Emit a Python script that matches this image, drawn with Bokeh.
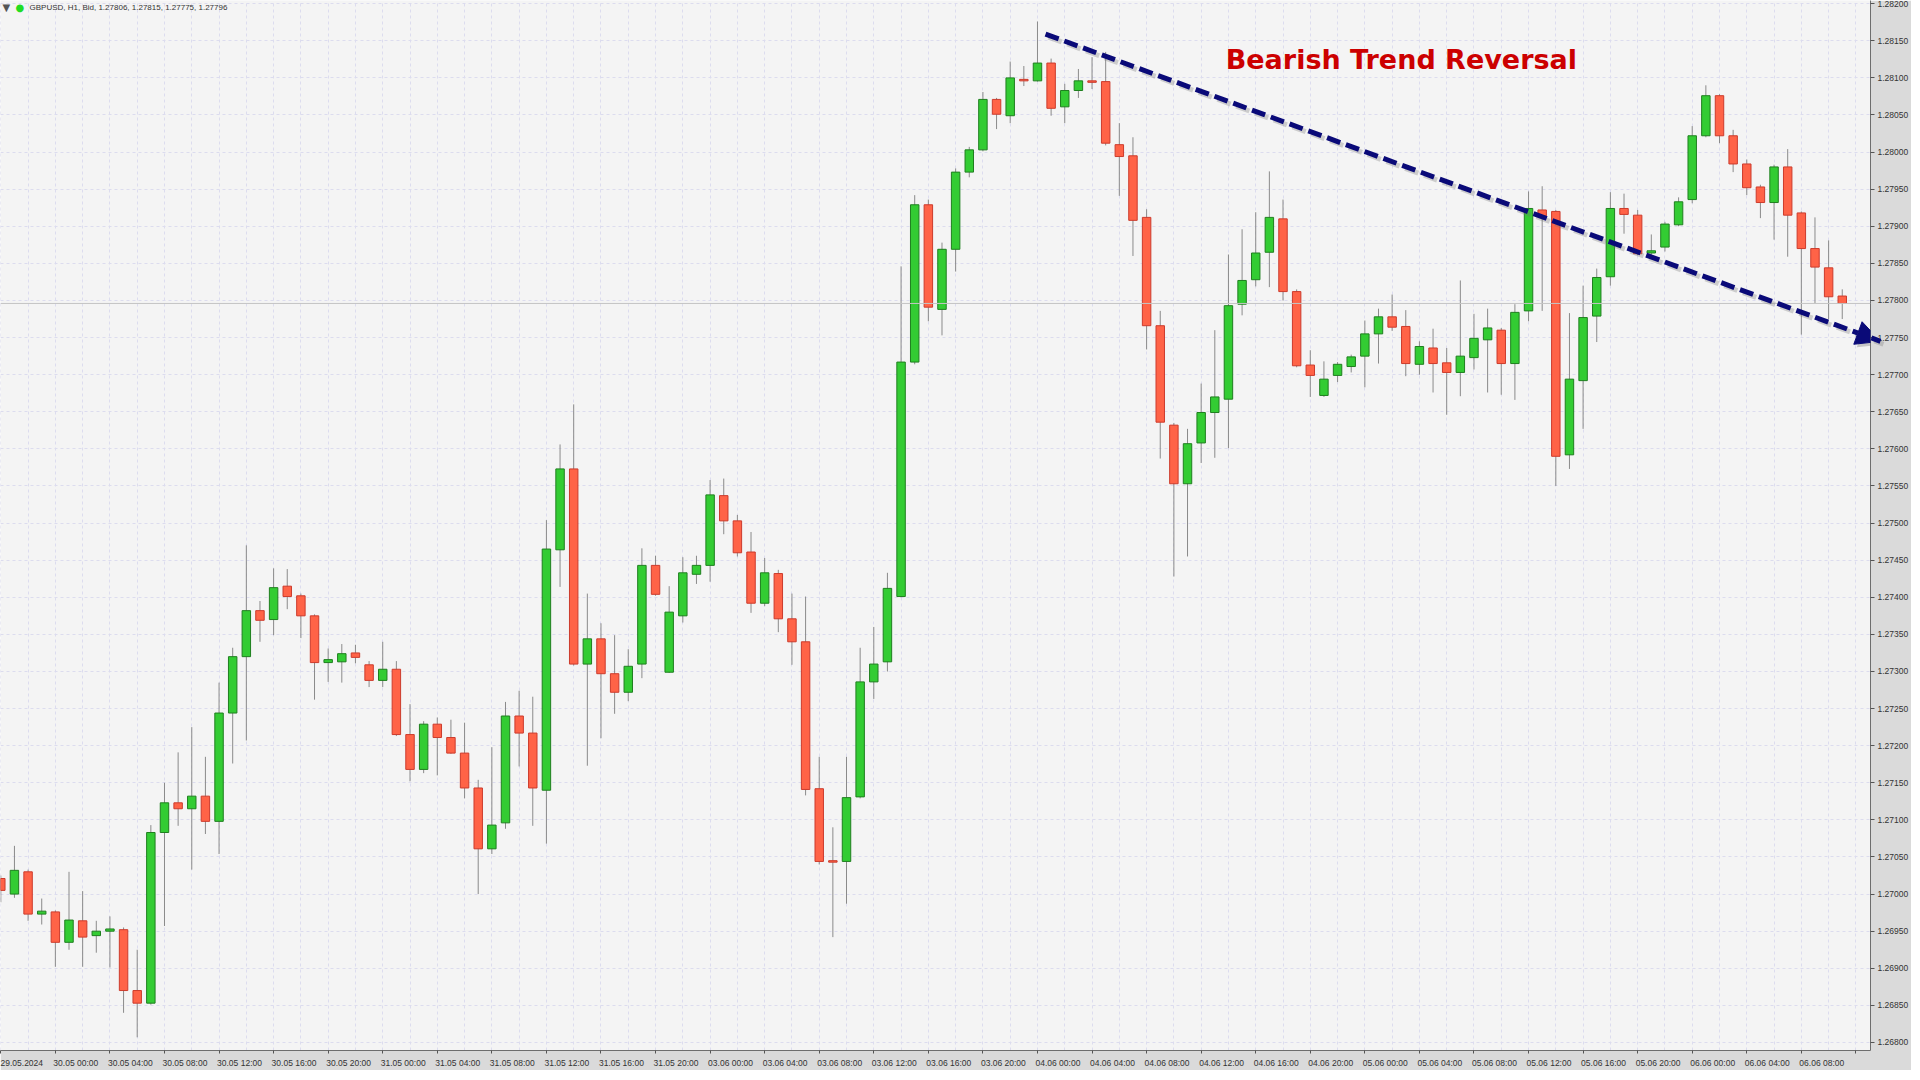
from bokeh.plotting import figure
from bokeh.models import (ColumnDataSource, Range1d, FixedTicker, PrintfTickFormatter,
                          Label, Arrow, NormalHead, Span)
from bokeh.embed import file_html
from bokeh.resources import INLINE

# ---------------- data (GBPUSD H1, 29.05.2024 20:00 .. 06.06.2024 11:00) ----------------
bar_index = list(range(136))

opens = [1.27021, 1.27000, 1.27030, 1.26973, 1.26976, 1.26935, 1.26964, 1.26944, 1.26950, 1.26952,
         1.26870, 1.26853, 1.27083, 1.27123, 1.27115, 1.27132, 1.27098, 1.27244, 1.27320, 1.27382,
         1.27370, 1.27415, 1.27402, 1.27375, 1.27312, 1.27313, 1.27325, 1.27309, 1.27288, 1.27303,
         1.27215, 1.27168, 1.27229, 1.27211, 1.27190, 1.27143, 1.27061, 1.27096, 1.27240, 1.27217,
         1.27140, 1.27464, 1.27573, 1.27310, 1.27344, 1.27297, 1.27272, 1.27310, 1.27443, 1.27299,
         1.27375, 1.27431, 1.27443, 1.27537, 1.27503, 1.27461, 1.27392, 1.27432, 1.27371, 1.27340,
         1.27142, 1.27045, 1.27044, 1.27131, 1.27286, 1.27313, 1.27401, 1.27717, 1.27929, 1.27788,
         1.27869, 1.27973, 1.28003, 1.28071, 1.28049, 1.28098, 1.28096, 1.28120, 1.28061, 1.28083,
         1.28096, 1.28095, 1.28010, 1.27995, 1.27912, 1.27766, 1.27632, 1.27553, 1.27608, 1.27649,
         1.27667, 1.27795, 1.27828, 1.27865, 1.27910, 1.27812, 1.27713, 1.27672, 1.27699, 1.27711,
         1.27725, 1.27755, 1.27778, 1.27765, 1.27714, 1.27736, 1.27716, 1.27703, 1.27723, 1.27747,
         1.27760, 1.27715, 1.27786, 1.27922, 1.27920, 1.27592, 1.27692, 1.27779, 1.27832, 1.27924,
         1.27915, 1.27864, 1.27872, 1.27902, 1.27936, 1.28022, 1.28076, 1.28022, 1.27984, 1.27953,
         1.27932, 1.27980, 1.27918, 1.27870, 1.27844, 1.27806]

highs = [1.27025, 1.27065, 1.27033, 1.26994, 1.26978, 1.27030, 1.27004, 1.26964, 1.26970, 1.26955,
         1.26925, 1.27093, 1.27150, 1.27191, 1.27225, 1.27185, 1.27285, 1.27332, 1.27470, 1.27395,
         1.27439, 1.27438, 1.27405, 1.27377, 1.27331, 1.27337, 1.27336, 1.27314, 1.27340, 1.27314,
         1.27256, 1.27233, 1.27238, 1.27235, 1.27231, 1.27154, 1.27198, 1.27259, 1.27274, 1.27266,
         1.27504, 1.27606, 1.27660, 1.27405, 1.27365, 1.27349, 1.27330, 1.27466, 1.27456, 1.27415,
         1.27454, 1.27456, 1.27558, 1.27560, 1.27511, 1.27488, 1.27453, 1.27437, 1.27405, 1.27401,
         1.27185, 1.27090, 1.27185, 1.27332, 1.27360, 1.27433, 1.27846, 1.27942, 1.27936, 1.27878,
         1.27978, 1.28007, 1.28081, 1.28073, 1.28122, 1.28116, 1.28176, 1.28126, 1.28092, 1.28112,
         1.28128, 1.28135, 1.28039, 1.28020, 1.27923, 1.27786, 1.27635, 1.27627, 1.27688, 1.27760,
         1.27862, 1.27896, 1.27919, 1.27974, 1.27936, 1.27815, 1.27733, 1.27718, 1.27717, 1.27727,
         1.27773, 1.27789, 1.27808, 1.27787, 1.27745, 1.27762, 1.27736, 1.27827, 1.27782, 1.27789,
         1.27763, 1.27795, 1.27947, 1.27954, 1.27922, 1.27783, 1.27820, 1.27843, 1.27946, 1.27944,
         1.27922, 1.27889, 1.27906, 1.27939, 1.28035, 1.28090, 1.28078, 1.28030, 1.27990, 1.27956,
         1.27983, 1.28004, 1.27920, 1.27912, 1.27881, 1.27815]

lows = [1.26989, 1.26995, 1.26964, 1.26959, 1.26902, 1.26925, 1.26902, 1.26921, 1.26901, 1.26840,
        1.26807, 1.26851, 1.26957, 1.27092, 1.27033, 1.27081, 1.27054, 1.27176, 1.27207, 1.27340,
        1.27349, 1.27384, 1.27345, 1.27262, 1.27286, 1.27285, 1.27311, 1.27279, 1.27279, 1.27213,
        1.27152, 1.27163, 1.27160, 1.27189, 1.27129, 1.27000, 1.27054, 1.27088, 1.27172, 1.27092,
        1.27068, 1.27414, 1.27308, 1.27173, 1.27210, 1.27243, 1.27260, 1.27291, 1.27402, 1.27298,
        1.27366, 1.27418, 1.27421, 1.27485, 1.27455, 1.27379, 1.27388, 1.27353, 1.27309, 1.27133,
        1.27040, 1.26942, 1.26987, 1.27129, 1.27263, 1.27300, 1.27400, 1.27714, 1.27772, 1.27753,
        1.27839, 1.27966, 1.28001, 1.28031, 1.28039, 1.28089, 1.28095, 1.28049, 1.28039, 1.28073,
        1.28085, 1.28009, 1.27941, 1.27860, 1.27734, 1.27587, 1.27428, 1.27455, 1.27581, 1.27588,
        1.27601, 1.27780, 1.27819, 1.27818, 1.27800, 1.27710, 1.27670, 1.27670, 1.27690, 1.27703,
        1.27683, 1.27715, 1.27759, 1.27698, 1.27700, 1.27676, 1.27646, 1.27671, 1.27707, 1.27676,
        1.27673, 1.27666, 1.27772, 1.27786, 1.27550, 1.27573, 1.27627, 1.27744, 1.27820, 1.27890,
        1.27861, 1.27860, 1.27866, 1.27900, 1.27931, 1.28020, 1.28012, 1.27973, 1.27942, 1.27911,
        1.27882, 1.27859, 1.27754, 1.27796, 1.27775, 1.27775]

closes = [1.27005, 1.27032, 1.26973, 1.26977, 1.26935, 1.26965, 1.26942, 1.26950, 1.26953, 1.26870,
          1.26853, 1.27083, 1.27123, 1.27115, 1.27132, 1.27098, 1.27244, 1.27320, 1.27382, 1.27369,
          1.27413, 1.27401, 1.27375, 1.27312, 1.27316, 1.27324, 1.27319, 1.27288, 1.27303, 1.27215,
          1.27168, 1.27229, 1.27211, 1.27190, 1.27143, 1.27061, 1.27093, 1.27240, 1.27217, 1.27143,
          1.27465, 1.27573, 1.27310, 1.27344, 1.27297, 1.27272, 1.27307, 1.27443, 1.27404, 1.27380,
          1.27433, 1.27443, 1.27538, 1.27503, 1.27460, 1.27392, 1.27433, 1.27371, 1.27340, 1.27141,
          1.27044, 1.27043, 1.27130, 1.27286, 1.27310, 1.27412, 1.27717, 1.27929, 1.27791, 1.27869,
          1.27973, 1.28003, 1.28071, 1.28051, 1.28100, 1.28096, 1.28120, 1.28059, 1.28083, 1.28096,
          1.28094, 1.28012, 1.27994, 1.27908, 1.27766, 1.27636, 1.27553, 1.27607, 1.27649, 1.27670,
          1.27793, 1.27827, 1.27864, 1.27912, 1.27812, 1.27712, 1.27699, 1.27694, 1.27714, 1.27724,
          1.27755, 1.27778, 1.27764, 1.27715, 1.27738, 1.27715, 1.27703, 1.27725, 1.27749, 1.27763,
          1.27715, 1.27784, 1.27924, 1.27914, 1.27590, 1.27694, 1.27777, 1.27831, 1.27924, 1.27916,
          1.27863, 1.27867, 1.27903, 1.27933, 1.28022, 1.28076, 1.28022, 1.27984, 1.27952, 1.27932,
          1.27980, 1.27915, 1.27870, 1.27845, 1.27805, 1.27796]

price_ticks = [1.26800, 1.26850, 1.26900, 1.26950, 1.27000, 1.27050, 1.27100, 1.27150, 1.27200,
               1.27250, 1.27300, 1.27350, 1.27400, 1.27450, 1.27500, 1.27550, 1.27600, 1.27650,
               1.27700, 1.27750, 1.27800, 1.27850, 1.27900, 1.27950, 1.28000, 1.28050, 1.28100,
               1.28150, 1.28200]

time_tick_bars = [0, 4, 8, 12, 16, 20, 24, 28, 32, 36, 40, 44, 48, 52, 56, 60, 64, 68, 72, 76,
                  80, 84, 88, 92, 96, 100, 104, 108, 112, 116, 120, 124, 128, 132, 136]
time_tick_labels = ["29.05.2024", "30.05 00:00", "30.05 04:00", "30.05 08:00", "30.05 12:00",
                    "30.05 16:00", "30.05 20:00", "31.05 00:00", "31.05 04:00", "31.05 08:00",
                    "31.05 12:00", "31.05 16:00", "31.05 20:00", "03.06 00:00", "03.06 04:00",
                    "03.06 08:00", "03.06 12:00", "03.06 16:00", "03.06 20:00", "04.06 00:00",
                    "04.06 04:00", "04.06 08:00", "04.06 12:00", "04.06 16:00", "04.06 20:00",
                    "05.06 00:00", "05.06 04:00", "05.06 08:00", "05.06 12:00", "05.06 16:00",
                    "05.06 20:00", "06.06 00:00", "06.06 04:00", "06.06 08:00", ""]

grid_bars = list(range(0, 138, 2))

symbol = "GBPUSD"
timeframe = "H1"
trend_title = "Bearish Trend Reversal"
trend_start = (76.59, 1.28159)
trend_end = (137.8, 1.27745)

# ---------------- figure ----------------
AX_FONT = "Liberation Sans"
AX_SIZE = "8.5px"
FRAME_W, FRAME_H = 1870, 1050

p = figure(frame_width=FRAME_W, frame_height=FRAME_H,
           x_range=Range1d(-0.022, 137.07), y_range=Range1d(1.267892, 1.282043),
           y_axis_location="right", output_backend="svg", toolbar_location=None,
           min_border=0, min_border_left=0, min_border_top=0, min_border_right=0, min_border_bottom=0,
           background_fill_color="#f4f4f4", border_fill_color="#dadada",
           outline_line_color=None)

# grids
p.xgrid[0].ticker = FixedTicker(ticks=grid_bars)
for g in (p.xgrid[0], p.ygrid[0]):
    g.grid_line_color = "#dcdcee"
    g.grid_line_dash = "3 3"
    g.grid_line_width = 1

# y axis (right)
yax = p.yaxis[0]
yax.ticker = FixedTicker(ticks=price_ticks)
yax.formatter = PrintfTickFormatter(format="%.5f")
yax.major_label_text_font = AX_FONT
yax.major_label_text_font_size = AX_SIZE
yax.major_label_text_color = "#333333"
yax.major_tick_out = 4
yax.major_tick_in = 0
yax.minor_tick_out = 0
yax.minor_tick_in = 0
yax.major_tick_line_color = "#555555"
yax.axis_line_color = "#6e6e6e"
yax.major_label_standoff = 3

# x axis: labels left-aligned at their tick -> label centre shifted by 1.5 bars,
# the tick marks themselves drawn as "minor" ticks at the bar positions
xax = p.xaxis[0]
label_pos = [b + 1.5 for b in time_tick_bars]
xax.ticker = FixedTicker(ticks=label_pos, minor_ticks=time_tick_bars)
xax.major_label_overrides = {pos: lab for pos, lab in zip(label_pos, time_tick_labels)}
xax.major_label_text_font = AX_FONT
xax.major_label_text_font_size = AX_SIZE
xax.major_label_text_color = "#333333"
xax.major_tick_out = 0
xax.major_tick_in = 0
xax.minor_tick_out = 3
xax.minor_tick_in = 0
xax.minor_tick_line_color = "#555555"
xax.axis_line_color = "#6e6e6e"
xax.major_label_standoff = 4

# ---------------- candles ----------------
up = [i for i in bar_index if closes[i] >= opens[i]]
down = [i for i in bar_index if closes[i] < opens[i]]


def make_src(ids):
    return ColumnDataSource(dict(
        x=[bar_index[i] for i in ids],
        high=[highs[i] for i in ids],
        low=[lows[i] for i in ids],
        top=[max(opens[i], closes[i]) for i in ids],
        bottom=[min(opens[i], closes[i]) for i in ids],
    ))


all_src = make_src(bar_index)
p.segment(x0="x", y0="low", x1="x", y1="high", source=all_src,
          line_color="#8a8a8a", line_width=1)

p.vbar(x="x", width=0.62, top="top", bottom="bottom", source=make_src(up),
       fill_color="#33cc33", line_color="#1f7f1f", line_width=1)
p.vbar(x="x", width=0.62, top="top", bottom="bottom", source=make_src(down),
       fill_color="#ff6347", line_color="#cc3b2c", line_width=1)

# current price line
last_close = closes[-1]
p.add_layout(Span(location=last_close, dimension="width", line_color="#c4c4c4", line_width=1))

# ---------------- trend arrow ----------------
sx, sy = trend_start
ex, ey = trend_end
dx_px = 0.22
dy_px = 0.00004
p.add_layout(Arrow(end=NormalHead(size=24, fill_color="#6f6f6f", fill_alpha=0.35, line_alpha=0),
                   x_start=sx + dx_px, y_start=sy - dy_px, x_end=ex + dx_px, y_end=ey - dy_px,
                   line_color="#6f6f6f", line_alpha=0.3, line_width=5, line_dash="14 6"))
p.add_layout(Arrow(end=NormalHead(size=24, fill_color="#0a0a78", line_color="#0a0a78", line_width=1),
                   x_start=sx, y_start=sy, x_end=ex, y_end=ey,
                   line_color="#0a0a78", line_width=5, line_dash="14 6"))

# title text
p.add_layout(Label(x=89.8, y=1.281245, text=trend_title, text_font="DejaVu Sans",
                   text_font_style="bold", text_font_size="27px", text_color="#cc0000",
                   text_baseline="alphabetic", text_align="left"))

# header
header = "%s, %s, Bid, %.5f, %.5f, %.5f, %.5f" % (symbol, timeframe, opens[-1], highs[-1],
                                                  lows[-1], closes[-1])
top_y = FRAME_H - 7
p.add_layout(Label(x=2, y=top_y, x_units="screen", y_units="screen", text="\u25bc",
                   text_font="DejaVu Sans", text_font_size="10px", text_color="#555555",
                   text_baseline="middle", text_align="left"))
p.add_layout(Label(x=15, y=top_y, x_units="screen", y_units="screen", text="\u25cf",
                   text_font="DejaVu Sans", text_font_size="10px", text_color="#22dd22",
                   text_baseline="middle", text_align="left"))
p.add_layout(Label(x=29, y=top_y, x_units="screen", y_units="screen", text=header,
                   text_font=AX_FONT, text_font_size="8px", text_color="#333333",
                   text_baseline="middle", text_align="left"))

# current price tag on the axis
p.add_layout(Label(x=137.07, y=last_close, text="%.5f" % last_close, x_offset=4,
                   text_font=AX_FONT, text_font_size=AX_SIZE, text_color="#222222",
                   text_baseline="middle", text_align="left",
                   background_fill_color="#b4b4b4", background_fill_alpha=1.0))

open("out.html", "w").write(file_html(p, INLINE))
